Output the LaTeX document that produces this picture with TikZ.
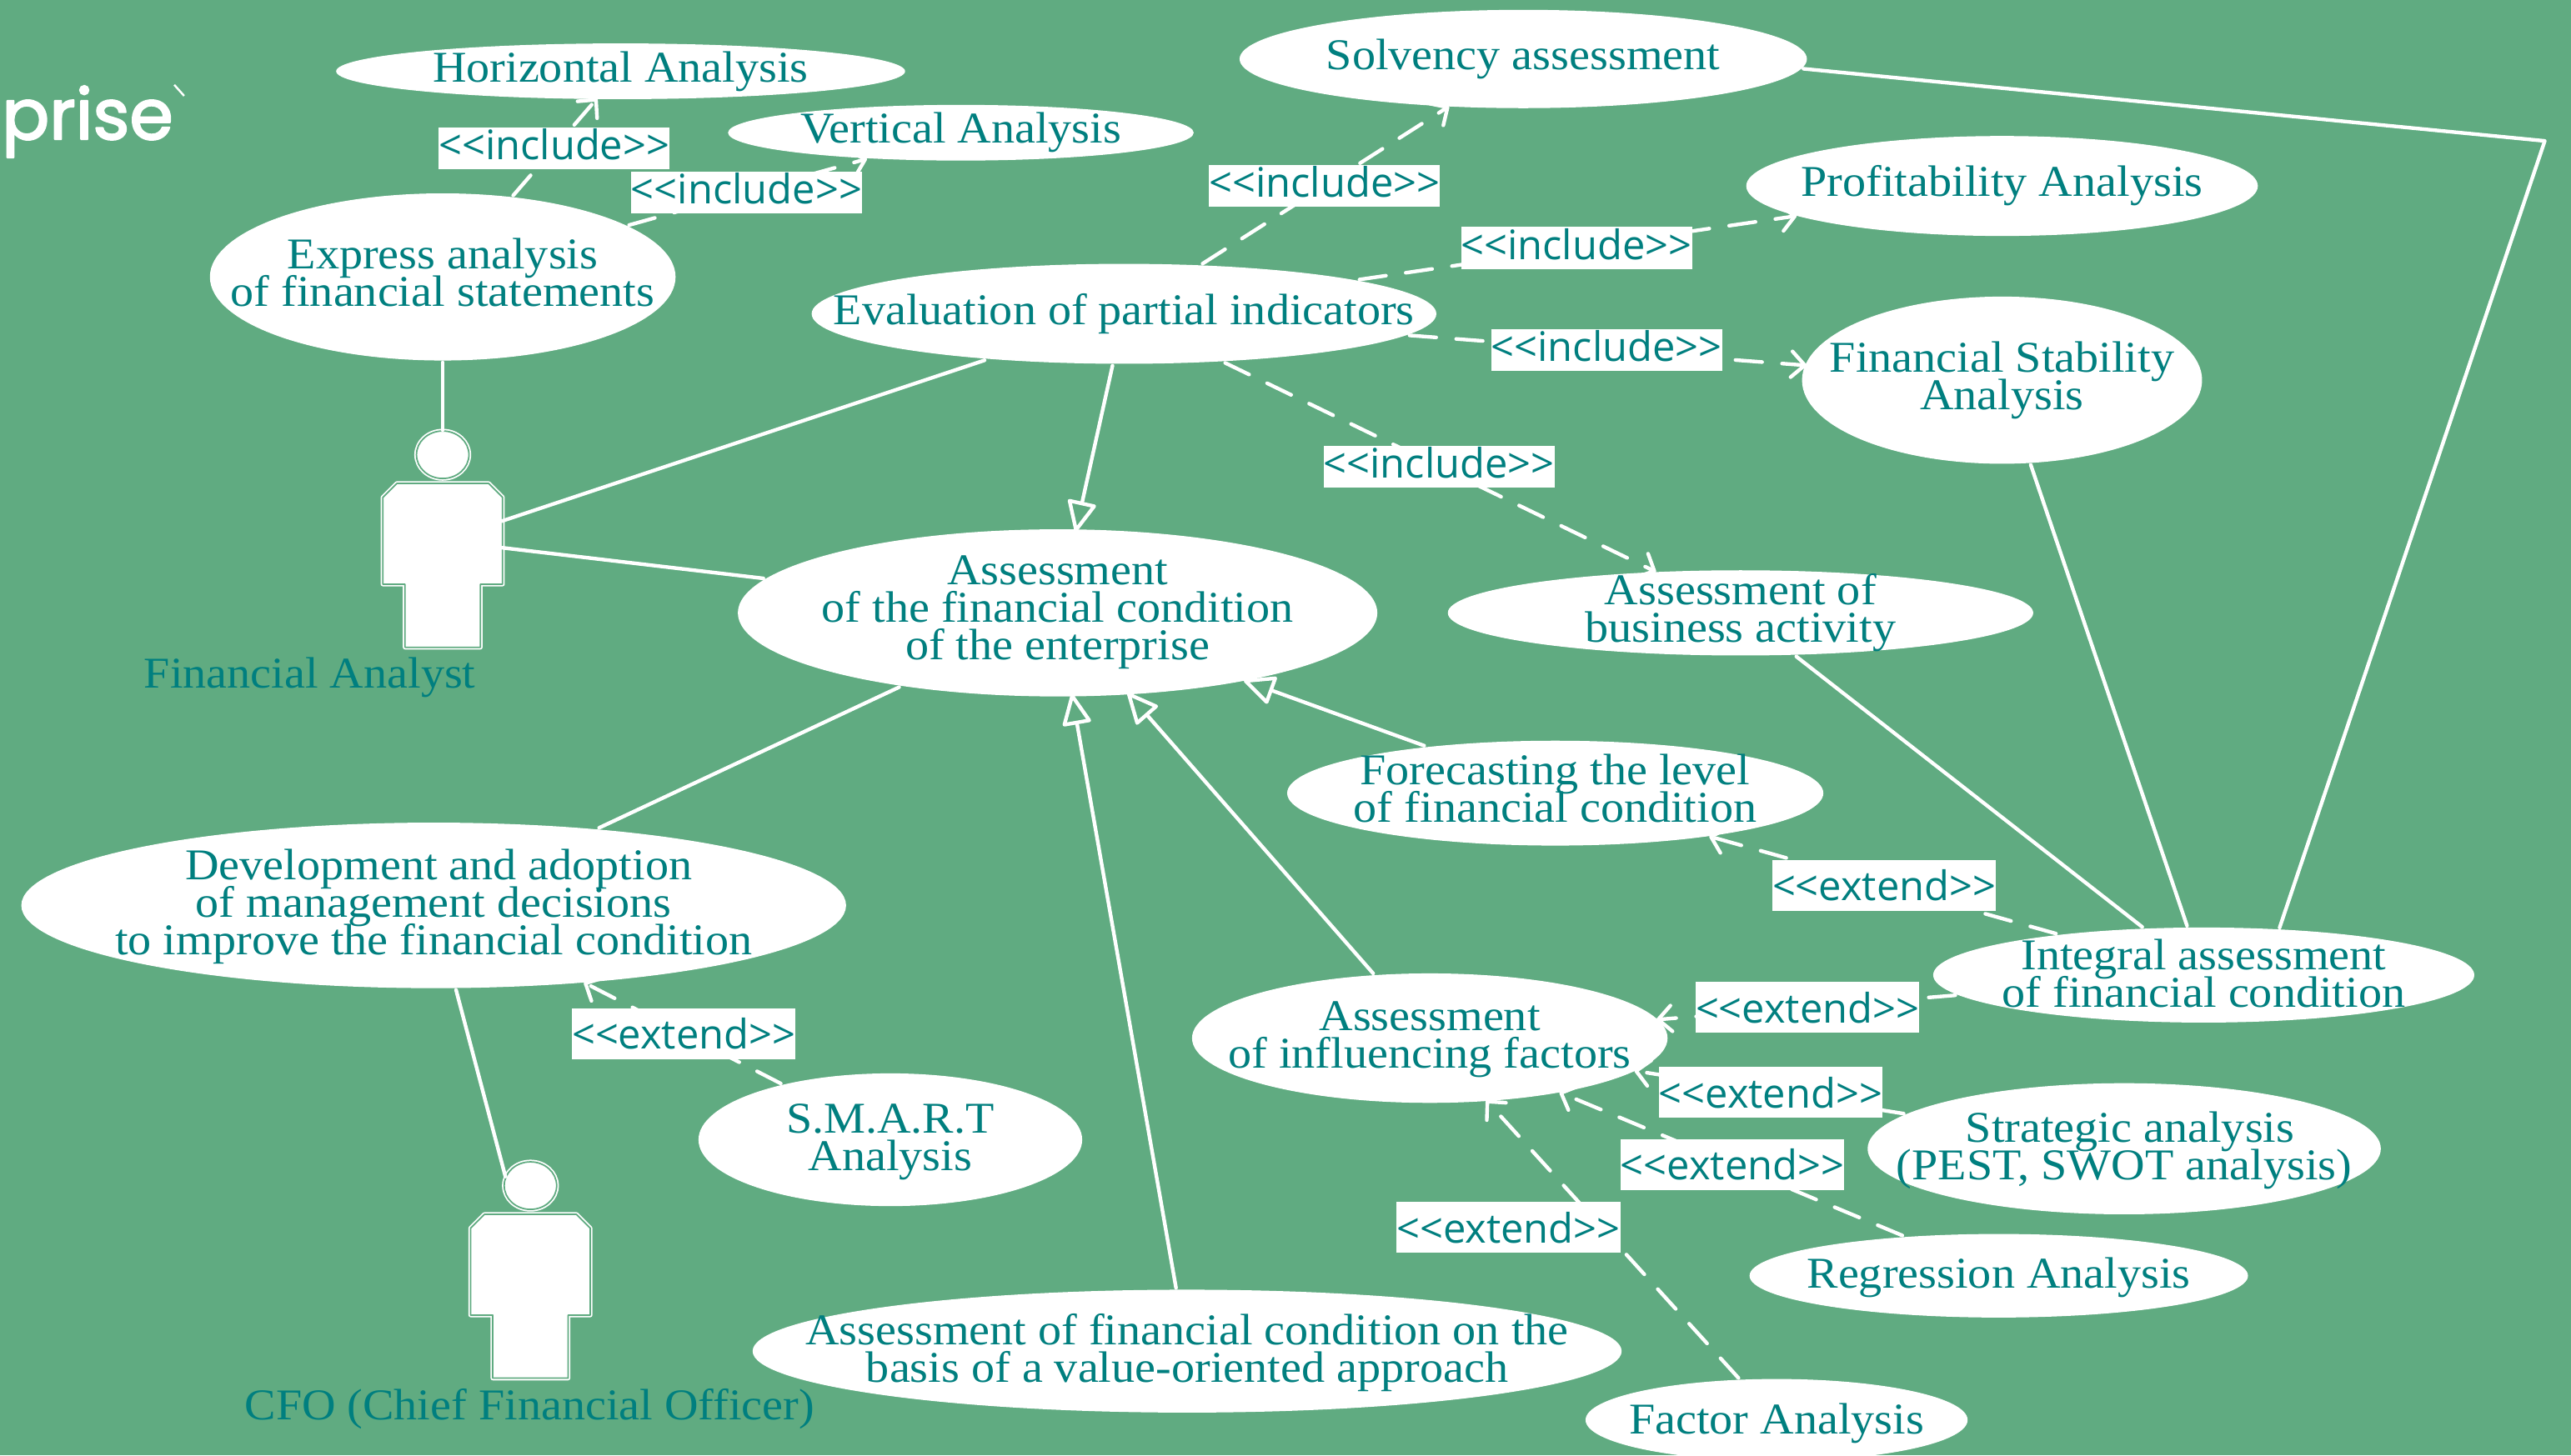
\documentclass[tikz,border=0pt]{standalone}
\usepackage{fontspec}
\setmainfont[FakeStretch=1.065]{Liberation Serif}
\newfontfamily\stereofont{Open Sans}
\newfontfamily\logofont[FakeBold=2.5]{Poppins}
\usetikzlibrary{arrows.meta,shapes.geometric}
\definecolor{bggreen}{HTML}{60AB81}
\definecolor{tealtext}{HTML}{007F7F}
\newcommand{\ucfont}{\fontsize{15}{12.8}\selectfont\lineskiplimit=-10pt\relax}

\begin{document}
\begin{tikzpicture}[x=0.19668mm, y=-0.19662mm, line width=1.25pt, line cap=round, line join=round, color=white,
usecase/.style 2 args={ellipse, fill=white, text=tealtext, align=center, inner xsep=-300pt, inner ysep=-100pt, text depth=3.3pt, font=\ucfont,
  minimum width=#1*0.19668mm, minimum height=#2*0.19662mm},
lowertext/.style={text depth=#1},
actorname/.style={text=tealtext, inner sep=0pt, font=\ucfont},
stereo/.style={fill=white, text=tealtext, inner xsep=0pt, inner ysep=0pt, text depth=2.8pt, minimum height=25.5*0.19662mm, font=\stereofont\fontsize{13.9}{14}\selectfont},
stereoext/.style={stereo, text depth=0pt, minimum height=31*0.19662mm},
incl/.style={dash pattern=on 3.2mm off 2.4mm, shorten >=-0.4mm, -{Straight Barb[round,length=1.6mm,width=3.1mm]}},
genline/.style={shorten >=-0.5mm, -{Triangle[open,round,length=4mm,width=3.6mm]}},
actorline/.style={draw=white, fill=white, line width=0.5pt, double=bggreen, double distance=0.5pt},
actor/.pic={
  \path[actorline] (-28,17.5) -- (28,17.5) -- (36.5,26) -- (36.5,79) -- (23,79) -- (23,117.5)
     -- (-23,117.5) -- (-23,79) -- (-36.5,79) -- (-36.5,26) -- cycle;
  \node[ellipse, actorline, inner sep=0pt, minimum width=32*0.19668mm, minimum height=29*0.19662mm] (-head) at (0,0) {};
  \node[inner sep=0pt, minimum width=70*0.19668mm, minimum height=100*0.19662mm] (-body) at (0,52.5) {};
}]
\useasboundingbox (0,0) rectangle (1568,888);
\clip (0,0) rectangle (1568,888);
\fill[bggreen] (0,0) rectangle (1568,888);

\node[anchor=base west, inner sep=0pt, text=white, font=\logofont\fontsize{24}{24}\selectfont] (logo) at (0,85) {prise};
\coordinate (ticka) at (106.3,51.8);
\coordinate (tickb) at (112.3,58.5);
\draw[line width=0.7pt, line cap=butt] (ticka) -- (tickb);

% use cases
\node[usecase={347}{34}] (horizontal) at (378.5,43.5) {Horizontal Analysis};
\node[usecase={284}{34}] (vertical) at (586,81) {Vertical Analysis};
\node[usecase={284}{102}] (express) at (270,169) {Express analysis\\of financial statements};
\node[usecase={381}{61}] (evaluation) at (685.5,191.5) {Evaluation of partial indicators};
\node[usecase={346}{60}] (solvency) at (929,36) {Solvency assessment};
\node[usecase={312}{61}] (profitability) at (1221,113.5) {Profitability Analysis};
\node[usecase={244}{102}] (stability) at (1221,232) {Financial Stability\\Analysis};
\node[usecase={357}{52}] (business) at (1061.5,374) {Assessment of\\business activity};
\node[usecase={390}{102}] (condition) at (645,374) {Assessment\\of the financial condition\\of the enterprise};
\node[usecase={327}{64}] (forecasting) at (948.5,484) {Forecasting the level\\of financial condition};
\node[usecase={503}{101}, lowertext=2.2pt] (development) at (264.5,552.5) {\hspace*{1.2mm}Development and adoption\\of management decisions\\to improve the financial condition};
\node[usecase={330}{58}, lowertext=1.1pt] (integral) at (1344,595) {Integral assessment\\of financial condition};
\node[usecase={290}{79}, lowertext=2.2pt] (factors) at (872,633.5) {Assessment\\of influencing factors};
\node[usecase={313}{80}, lowertext=2.2pt] (strategic) at (1295.5,701) {\hspace*{1.4mm}Strategic analysis\\(PEST, SWOT analysis)};
\node[usecase={304}{51}, lowertext=2.2pt] (regression) at (1219,778.5) {Regression Analysis};
\node[usecase={233}{50}, lowertext=1.1pt] (factor) at (1083.5,866.5) {Factor Analysis};
\node[usecase={234}{81}, lowertext=1.6pt] (smart) at (543,695.5) {S.M.A.R.T\\Analysis};
\node[usecase={530}{75}, lowertext=2.2pt] (valuebased) at (724,824.5) {Assessment of financial condition on the\\basis of a value-oriented approach};

% actors
\pic (analyst) at (270,277.5) {actor};
\pic (cfo) at (323.5,723.5) {actor};
\node[actorname] (analystname) at (189,413.5) {Financial Analyst};
\node[actorname] (cfoname) at (323,860) {CFO (Chief Financial Officer)};

\coordinate (bend) at (1552,86);

\path[-] (express) edge (analyst-head)
         (analyst-body) edge (evaluation)
                        edge (condition)
         (development) edge (condition)
                       edge (cfo-head.160)
         (stability) edge (integral)
         (business) edge (integral);
\draw (solvency.358) -- (bend) -- (integral.32);

\path[genline] (evaluation) edge (condition)
               (forecasting) edge (condition)
               (factors) edge (condition)
               (valuebased) edge (condition);

\path[incl] (express) edge node[stereo] {<<include>>} (horizontal)
                      edge node[stereo] {<<include>>} (vertical)
            (evaluation) edge node[stereo] {<<include>>} (solvency)
                         edge node[stereo] {<<include>>} (profitability)
                         edge node[stereo] {<<include>>} (stability)
                         edge node[stereo] {<<include>>} (business)
            (integral) edge node[stereoext] {<<extend>>} (forecasting)
                       edge node[stereoext] {<<extend>>} (factors)
            (strategic) edge node[stereoext] {<<extend>>} (factors)
            (regression) edge node[stereoext] {<<extend>>} (factors)
            (factor) edge (factors)
            (smart) edge node[stereoext] {<<extend>>} (development);
\node[stereoext] (factorlabel) at (920,749) {<<extend>>};
\end{tikzpicture}
\end{document}
